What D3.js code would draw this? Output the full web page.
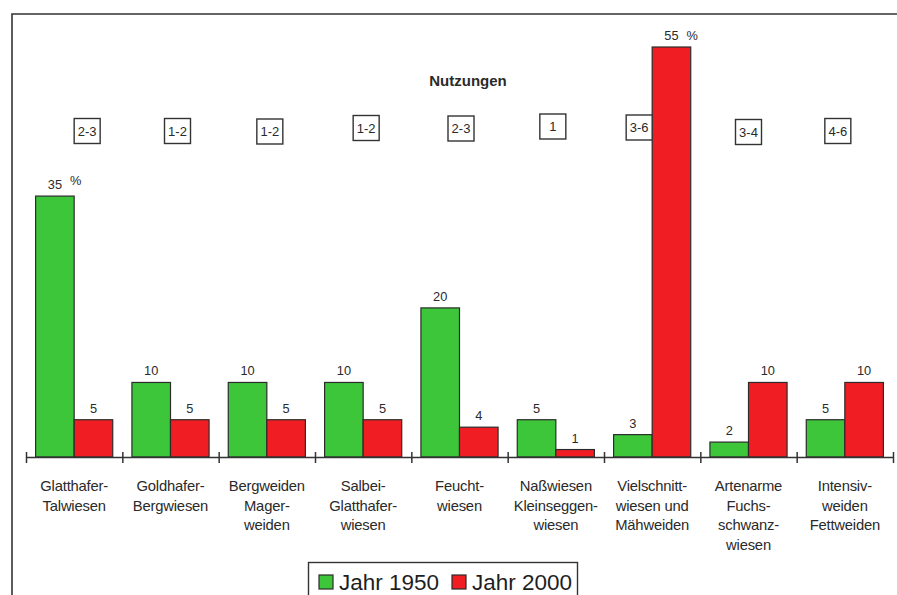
<!DOCTYPE html>
<html>
<head>
<meta charset="utf-8">
<script src="https://cdn.jsdelivr.net/npm/d3@7/dist/d3.min.js"></script>
<style>
  html, body { margin: 0; padding: 0; background: #ffffff; }
  svg { display: block; font-family: "Liberation Sans", Arial, sans-serif; }
</style>
</head>
<body>
<svg id="chart" width="897" height="595"></svg>
<script>
// Grünland-Typen und ihr Flächenanteil (%) 1950 und 2000
const categories = [
  ["Glatthafer-", "Talwiesen"],
  ["Goldhafer-", "Bergwiesen"],
  ["Bergweiden", "Mager-", "weiden"],
  ["Salbei-", "Glatthafer-", "wiesen"],
  ["Feucht-", "wiesen"],
  ["Naßwiesen", "Kleinseggen-", "wiesen"],
  ["Vielschnitt-", "wiesen und", "Mähweiden"],
  ["Artenarme", "Fuchs-", "schwanz-", "wiesen"],
  ["Intensiv-", "weiden", "Fettweiden"]
];
const values1950 = [35, 10, 10, 10, 20, 5, 3, 2, 5];
const values2000 = [5, 5, 5, 5, 4, 1, 55, 10, 10];
const nutzungen = ["2-3", "1-2", "1-2", "1-2", "2-3", "1", "3-6", "3-4", "4-6"];
const seriesNames = ["Jahr 1950", "Jahr 2000"];
const percentFor = [[0, 0], [6, 1]]; // [Kategorie, Serie] mit "%"-Zusatz

// Lage der Nutzungs-Kästchen relativ zur Gruppenmitte
const tagShift = [[13, 0], [7, 0], [3, 0.5], [3, -3], [1.5, -2.5], [-3, -4.5], [-13, -3.5], [0, 1], [-7, 0]];

const colors = { "Jahr 1950": "#3dc63a", "Jahr 2000": "#f01e22" };
const ink = "#2a2a2a";

const svg = d3.select("#chart");

// Rahmen (oben und links)
svg.append("path")
  .attr("d", "M12,600 L12,14 L900,14")
  .attr("fill", "none").attr("stroke", "#333").attr("stroke-width", 1.6);

const baseY = 457;
const idx = d3.range(categories.length);

const x0 = d3.scaleBand().domain(idx).range([26, 893]).padding(0);
const x1 = d3.scaleBand().domain(seriesNames)
  .range([9.6, x0.bandwidth() - 9.6]).padding(0);
const y = d3.scaleLinear().domain([0, 55]).range([baseY, 47]);

// Balken
const groups = svg.append("g").selectAll("g")
  .data(idx).join("g")
  .attr("transform", i => `translate(${x0(i)},0)`);

const barData = i => seriesNames.map((s, k) => ({
  i, s, k, v: k === 0 ? values1950[i] : values2000[i]
}));

groups.selectAll("rect")
  .data(barData).join("rect")
  .attr("x", d => x1(d.s))
  .attr("y", d => y(d.v))
  .attr("width", x1.bandwidth())
  .attr("height", d => baseY - y(d.v))
  .attr("fill", d => colors[d.s])
  .attr("stroke", "#2b2b2b").attr("stroke-width", 1.2);

// Wertbeschriftungen
groups.selectAll("text.val")
  .data(barData).join("text")
  .attr("class", "val")
  .attr("x", d => x1(d.s) + x1.bandwidth() / 2)
  .attr("y", d => y(d.v) - 7)
  .attr("text-anchor", "middle")
  .attr("font-size", 12.8).attr("fill", ink)
  .text(d => d.v);

percentFor.forEach(([i, k]) => {
  const s = seriesNames[k];
  const v = k === 0 ? values1950[i] : values2000[i];
  svg.append("text")
    .attr("x", x0(i) + x1(s) + x1.bandwidth() / 2 + 15)
    .attr("y", y(v) - (k === 0 ? 11 : 7))
    .attr("font-size", 12.8).attr("fill", ink)
    .text("%");
});

// Achse mit Trennstrichen zwischen den Gruppen
const xAxis = d3.axisBottom(d3.scaleLinear().domain([0, categories.length]).range([26, 893]))
  .tickValues(d3.range(categories.length + 1))
  .tickSize(6).tickSizeOuter(0).tickFormat("");
const axisG = svg.append("g").attr("transform", `translate(0,${baseY})`).call(xAxis);
axisG.select(".domain").attr("stroke", "#333").attr("stroke-width", 1.5);
axisG.selectAll(".tick line")
  .attr("y1", -5).attr("y2", 6)
  .attr("stroke", "#333").attr("stroke-width", 1.5);

// Kategorienamen
const catText = svg.append("g").selectAll("text")
  .data(idx).join("text")
  .attr("x", i => x0(i) + x0.bandwidth() / 2)
  .attr("y", 491)
  .attr("text-anchor", "middle")
  .attr("font-size", 14.8).attr("letter-spacing", -0.2).attr("fill", ink);
catText.selectAll("tspan")
  .data(i => categories[i]).join("tspan")
  .attr("x", function() { return d3.select(this.parentNode).attr("x"); })
  .attr("dy", (d, j) => j === 0 ? 0 : 19.5)
  .text(d => d);

// Überschrift der Nutzungen
svg.append("text")
  .attr("x", 468).attr("y", 86)
  .attr("text-anchor", "middle")
  .attr("font-size", 15).attr("font-weight", "bold").attr("fill", ink)
  .text("Nutzungen");

// Nutzungs-Kästchen
const tags = svg.append("g").selectAll("g")
  .data(idx).join("g")
  .attr("transform", i => `translate(${x0(i) + x0.bandwidth() / 2 + tagShift[i][0]},${131 + tagShift[i][1]})`);
tags.append("rect")
  .attr("x", -13).attr("y", -12.5).attr("width", 26).attr("height", 25)
  .attr("fill", "#fff").attr("stroke", "#333").attr("stroke-width", 1.4);
tags.append("text")
  .attr("y", 4.5).attr("text-anchor", "middle")
  .attr("font-size", 13).attr("fill", ink)
  .text(i => nutzungen[i]);

// Legende
const legend = svg.append("g");
legend.append("rect")
  .attr("x", 308.5).attr("y", 562.5).attr("width", 269).attr("height", 40)
  .attr("fill", "#fff").attr("stroke", "#333").attr("stroke-width", 1.4);
const legX = [319, 452];
seriesNames.forEach((s, k) => {
  legend.append("rect")
    .attr("x", legX[k]).attr("y", 575).attr("width", 14).attr("height", 14)
    .attr("fill", colors[s]).attr("stroke", "#2b2b2b").attr("stroke-width", 1.2);
  legend.append("text")
    .attr("x", legX[k] + 20).attr("y", 590)
    .attr("font-size", 22.5).attr("fill", "#1e1e1e")
    .text(s);
});
</script>
</body>
</html>
